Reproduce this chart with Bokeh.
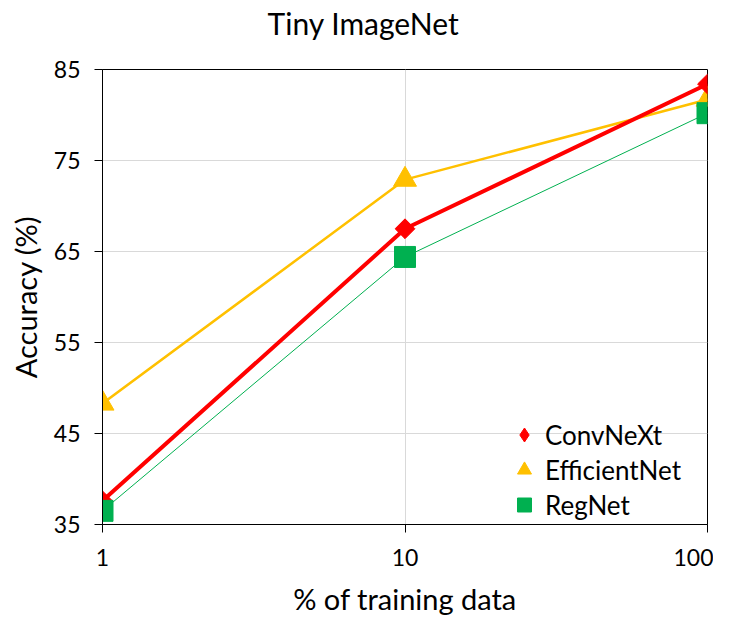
import math
from bokeh.plotting import figure
from bokeh.models import FixedTicker, Legend, LegendItem, Range1d, NumeralTickFormatter, Label
from bokeh.embed import file_html
from bokeh.resources import INLINE

x_pct = [1, 10, 100]
convnext = [37.6, 67.5, 83.4]
efficientnet = [48.3, 72.9, 81.7]
regnet = [36.5, 64.4, 80.2]
y_ticks = [35, 45, 55, 65, 75, 85]
x_ticks = [1, 10, 100]
title_text = "Tiny ImageNet"

FONT = "Lato"

p = figure(frame_width=605, frame_height=455, x_axis_type="log", output_backend="svg",
           toolbar_location=None, x_range=Range1d(1, 100), y_range=Range1d(35, 85),
           min_border_left=102, min_border_right=6, min_border_top=69, min_border_bottom=80)

# title as a label in the panel above the frame
p.add_layout(Label(x=261, y=47, x_units="screen", y_units="screen", text=title_text,
                   text_align="center", text_baseline="middle", text_font=FONT,
                   text_font_size="30px", text_color="black"), "above")

p.outline_line_color = "black"
p.outline_line_width = 1
p.outline_line_alpha = 1

for ax in (p.xaxis[0], p.yaxis[0]):
    ax.axis_line_color = "black"
    ax.major_tick_line_color = "black"
    ax.major_tick_in = 0
    ax.major_tick_out = 8
    ax.minor_tick_line_color = None
    ax.major_label_text_font = FONT
    ax.major_label_text_font_size = "23px"
    ax.major_label_text_color = "black"
    ax.axis_label_text_font = FONT
    ax.axis_label_text_font_size = "29px"
    ax.axis_label_text_font_style = "normal"
    ax.axis_label_text_color = "black"

p.xaxis.ticker = FixedTicker(ticks=x_ticks)
p.xaxis.formatter = NumeralTickFormatter(format="0")
p.yaxis.ticker = FixedTicker(ticks=y_ticks)
p.xaxis.axis_label = "% of training data"
p.yaxis.axis_label = "Accuracy (%)"
p.xaxis.major_label_standoff = 16
p.yaxis.major_label_standoff = 14
p.xaxis.axis_label_standoff = 12
p.yaxis.axis_label_standoff = 8

p.xgrid.ticker = FixedTicker(ticks=x_ticks)
p.ygrid.ticker = FixedTicker(ticks=y_ticks)
p.xgrid.grid_line_color = "#d9d9d9"
p.ygrid.grid_line_color = "#d9d9d9"
p.xgrid.minor_grid_line_color = None

# series: EfficientNet, ConvNeXt, RegNet (draw order)
p.line(x_pct, efficientnet, line_color="#FFC000", line_width=2.5)
r_eff = p.scatter(x_pct, efficientnet, marker="triangle", size=23, fill_color="#FFC000", line_color="#FFC000")
p.line(x_pct, convnext, line_color="#FF0000", line_width=4)
p.scatter(x_pct, convnext, marker="square", angle=math.pi / 4, size=14, fill_color="#FF0000", line_color="#FF0000")
p.line(x_pct, regnet, line_color="#00B050", line_width=1)
r_reg = p.scatter(x_pct, regnet, marker="square", size=21, fill_color="#00B050", line_color="#00B050")

# legend-only diamond glyph (no points drawn)
r_conv_leg = p.scatter([float("nan")], [float("nan")], marker="diamond", size=14,
                       fill_color="#FF0000", line_color="#FF0000")

legend = Legend(items=[
    LegendItem(label="ConvNeXt", renderers=[r_conv_leg]),
    LegendItem(label="EfficientNet", renderers=[r_eff]),
    LegendItem(label="RegNet", renderers=[r_reg]),
], location=(401, 2))
legend.background_fill_alpha = 0
legend.border_line_color = None
legend.label_text_font = FONT
legend.label_text_font_size = "26px"
legend.label_text_color = "black"
legend.spacing = 0
legend.glyph_width = 42
legend.glyph_height = 35
legend.label_height = 34
legend.label_standoff = 0
legend.margin = 0
legend.padding = 0
p.add_layout(legend)

open("out.html", "w").write(file_html(p, INLINE))
